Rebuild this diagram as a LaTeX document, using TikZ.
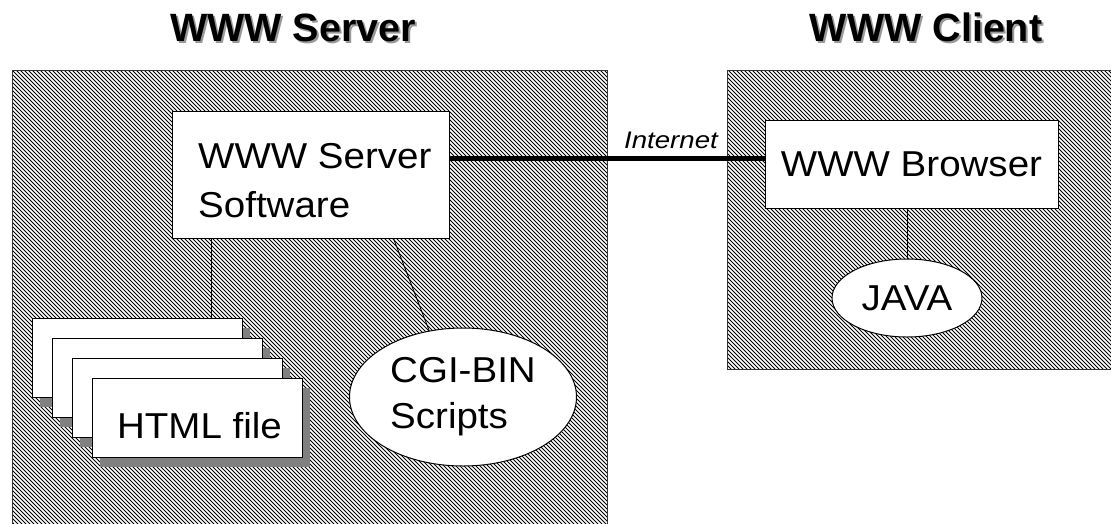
\documentclass[tikz,border=0pt]{standalone}
\usepackage{fontspec}
\setmainfont{Liberation Sans}
\usetikzlibrary{shapes.geometric,calc}
\newcommand\hx[1]{\scalebox{1.07}[1]{#1}}
\tikzset{
 area/.style={draw=black!80, line width=1pt},
 hatchline/.style={black, line width=0.75pt},
 whitebox/.style={draw=black, line width=1pt, fill=white, inner sep=0pt},
 oval/.style={ellipse, draw=black, line width=1pt, fill=white, inner sep=0pt},
 body/.style={font=\fontsize{36}{49}\selectfont, inner sep=0pt},
 title/.style={font=\bfseries\fontsize{39.5}{46}\selectfont, inner sep=0pt},
 link/.style={draw=black, line width=0.9pt},
 netline/.style={draw=black, line width=5pt},
 page/.style={draw=black, line width=0.9pt, fill=white, minimum width=210pt, minimum height=79pt, inner sep=0pt},
 pageshadow/.style={fill=black!50, draw=none, minimum width=210pt, minimum height=79pt, inner sep=0pt},
}
\begin{document}
\begin{tikzpicture}[x=1pt,y=-1pt]
\useasboundingbox (0,0) rectangle (1111,523);
\clip (0,0) rectangle (1111,523);
% hatched areas
\begin{scope}
 \clip (12,70) rectangle (607,530) (727,70) rectangle (1120,369);
 \foreach \i in {-470,-466,...,1120} \draw[hatchline] (\i,60) -- ++(480,480);
\end{scope}
\draw[area] (12,530) -- (12,70) -- (607,70) -- (607,530);
\draw[area] (1120,369) -- (727,369) -- (727,70) -- (1120,70);
% titles
\node[title, text=black!40, anchor=base] (tservershadow) at (295,43) {WWW Server};
\node[title, anchor=base] (tserver) at (293,41) {WWW Server};
\node[title, text=black!40, anchor=base] (tclientshadow) at (928,43) {WWW Client};
\node[title, anchor=base] (tclient) at (926,41) {WWW Client};
% server software
\node[whitebox, minimum width=277pt, minimum height=127pt] (soft) at (310.5,174.5) {};
\node[body, anchor=base west] (softa) at (198,168) {\hx{WWW Server}};
\node[body, anchor=base west] (softb) at (198,217) {\hx{Software}};
% browser
\node[whitebox, body, minimum width=293pt, minimum height=88pt] (browser) at (911.5,164) {\hx{WWW Browser}};
% internet link
\coordinate (netl) at ($(soft.north east)!0.378!(soft.south east)$);
\draw[netline] (netl) -- (netl -| browser.west);
\node[font=\itshape\fontsize{24}{28}\selectfont, inner sep=0pt, anchor=base] (inet) at (671,148) {\scalebox{1.15}[1]{Internet}};
% html pages
\node[pageshadow] (ps0) at (145,367.5) {};
\node[page] (p0) at (137,357.5) {};
\node[pageshadow] (ps1) at (165,387.5) {};
\node[page] (p1) at (157,377.5) {};
\node[pageshadow] (ps2) at (185,407.5) {};
\node[page] (p2) at (177,397.5) {};
\node[pageshadow] (ps3) at (205,427.5) {};
\node[page] (p3) at (197,417.5) {};
\node[body, anchor=base] (html) at (199.5,438) {\hx{HTML file}};
% cgi
\node[oval, body, align=left, minimum width=227pt, minimum height=138pt, font=\fontsize{36}{46}\selectfont] (cgi) at (463,397) {\hx{CGI-BIN}\\\hx{Scripts}};
% java
\node[oval, body, minimum width=150pt, minimum height=78pt] (java) at (907,298) {\hx{JAVA}};
% links
\coordinate (sl) at ([xshift=40pt]soft.south west);
\draw[link] (sl) -- (sl |- p0.north);
\draw[link] ([xshift=222pt]soft.south west) -- (cgi.117);
\draw[link] (browser.south -| java.north) -- (java.north);
\end{tikzpicture}
\end{document}
